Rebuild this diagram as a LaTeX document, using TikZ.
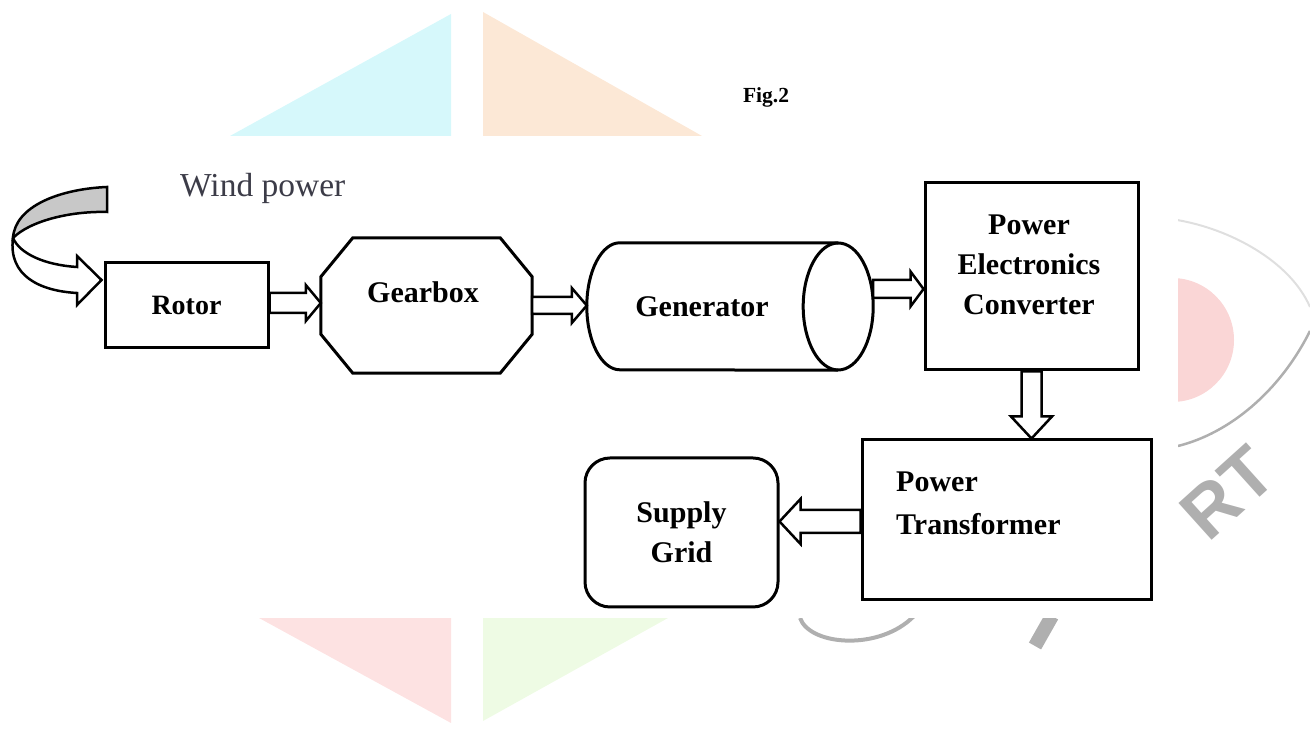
\documentclass[tikz,border=0pt]{standalone}
\usepackage{fontspec}
\setmainfont{Liberation Serif}
\newfontfamily\wmfont{Liberation Sans}
\usetikzlibrary{calc}

\definecolor{wmcyan}{RGB}{214,248,251}
\definecolor{wmpeach}{RGB}{252,232,214}
\definecolor{wmpink}{RGB}{253,226,226}
\definecolor{wmgreen}{RGB}{238,251,228}
\definecolor{wmred}{RGB}{250,214,214}
\definecolor{wmgray}{RGB}{175,175,175}
\definecolor{bandgray}{RGB}{200,200,200}
\definecolor{windgray}{RGB}{60,60,72}

\tikzset{
  box/.style={draw, line width=3pt, inner sep=0pt},
  lbl/.style={inner sep=0pt, font=\fontsize{30}{40}\selectfont\bfseries, align=center},
  barrow/.style n args={3}{draw, fill=white, line width=2.5pt, line join=miter,
    to path={let \p1=(\tikztostart), \p2=(\tikztotarget),
      \n1={atan2(\y2-\y1,\x2-\x1)}, \n2={veclen(\x2-\x1,\y2-\y1)} in
      ($(\p1)+(\n1+90:#1)$) -- ($(\p1)+(\n1:{\n2-#3})+(\n1+90:#1)$)
      -- ($(\p1)+(\n1:{\n2-#3})+(\n1+90:#2)$) -- (\p2)
      -- ($(\p1)+(\n1:{\n2-#3})+(\n1-90:#2)$) -- ($(\p1)+(\n1:{\n2-#3})+(\n1-90:#1)$)
      -- ($(\p1)+(\n1-90:#1)$) -- cycle}},
}

\begin{document}
\begin{tikzpicture}[x=1pt,y=1pt]
\path[use as bounding box] (0,0) rectangle (1310,751);
% watermark behind the figure
\fill[wmcyan] (230,615) -- (451,737) -- (451,615) -- cycle;
\fill[wmpeach] (483,739) -- (483,615) -- (702,615) -- cycle;
\fill[wmpink] (259,133) -- (451,133) -- (451,28) -- cycle;
\fill[wmgreen] (483,133) -- (668,133) -- (483,30) -- cycle;
\fill[wmred] (1172,411) circle (62);
\draw[wmgray!40, line width=2pt] (1177,531) .. controls (1230,522) and (1290,490) .. (1310,444);
\draw[wmgray, line width=2.5pt] (1178,305) .. controls (1230,318) and (1280,360) .. (1310,420);
\draw[wmgray, line width=4pt] (800,133) .. controls (810,105) and (880,100) .. (914,135);
\draw[wmgray, line width=14pt] (1052,135) -- (1035,105);
\node[rotate=42, inner sep=0pt, font=\wmfont\bfseries\fontsize{72}{72}\selectfont, text=wmgray] (wmtxt) at (1228,258) {RT};
\fill[white] (0,133) rectangle (1178,615);

\node[inner sep=0pt, font=\fontsize{21.5}{26}\selectfont\bfseries] (figtxt) at (766,654) {Fig.2};
\node[anchor=base west, inner sep=0pt, font=\fontsize{33.5}{40}\selectfont, text=windgray] (windtxt) at (180,554) {Wind power};

% blocks
\node[box, minimum width=163pt, minimum height=85pt, font=\fontsize{28}{34}\selectfont\bfseries] (rotor) at (186.5,445.5) {Rotor};
\node[minimum width=211pt, minimum height=135pt, inner sep=0pt] (gear) at (426.5,445.5) {};
\draw[line width=3pt] ([xshift=32pt]gear.north west) -- ([xshift=-32pt]gear.north east) -- ([yshift=-39pt]gear.north east) -- ([yshift=39pt]gear.south east) -- ([xshift=-32pt]gear.south east) -- ([xshift=32pt]gear.south west) -- ([yshift=39pt]gear.south west) -- ([yshift=-39pt]gear.north west) -- cycle;
\node[lbl, anchor=base] (geartxt) at (423,448) {Gearbox};
\node[minimum width=286pt, minimum height=127pt, inner sep=0pt] (gen) at (730,444.5) {};
\draw[line width=3pt] ([xshift=-35pt]gen.north east) -- ([xshift=33pt]gen.north west) arc[start angle=90, end angle=270, x radius=33, y radius=63.5] -- ([xshift=-35pt]gen.south east);
\draw[line width=3pt] ([xshift=-35pt]gen.east) ellipse[x radius=35, y radius=63.5];
\node[lbl, anchor=base] (gentxt) at (702,434) {Generator};
\node[box, minimum width=213pt, minimum height=187pt] (pec) at (1031.5,474.5) {};
\node[lbl, anchor=north] (pectxt) at (1029,536) {Power\\Electronics\\Converter};
\node[box, minimum width=289pt, minimum height=160pt] (trans) at (1006.5,231) {};
\node[lbl, anchor=north west, align=left, font=\fontsize{30}{43}\selectfont\bfseries] (transtxt) at (896,279) {Power\\Transformer};
\node[box, rounded corners=25pt, minimum width=193pt, minimum height=149pt, lbl] (grid) at (681.5,218.5) {Supply\\Grid};

% wind input
\draw[line width=2.5pt, fill=bandgray] (107,564) .. controls (60,562) and (15,545) .. (13,513) .. controls (30,530) and (70,540) .. (107,539) -- cycle;
\draw[line width=2.5pt, fill=white] (13,513) .. controls (8,475) and (40,460) .. (77,458) -- (77,446) -- ([yshift=25.5pt,xshift=-2pt]rotor.west) -- (77,495) -- (77,484) .. controls (45,486) and (20,497) .. (13,513) -- cycle;

% power flow
\draw[barrow={10}{18}{15}] ([yshift=2.5pt]rotor.east) to ([yshift=2.5pt]rotor.east -| gear.west);
\draw[barrow={8.5}{17.5}{15}] (gear.east) to (gear.east -| gen.west);
\draw[barrow={9}{17.5}{13}] ([yshift=17.5pt]gen.east) to ([yshift=17.5pt]gen.east -| pec.west);
\draw[barrow={10}{20.5}{22}] (pec.south) to (pec.south |- trans.north);
\draw[barrow={11.5}{22.5}{21}] ([yshift=-1.5pt]trans.west) to ([yshift=-1.5pt]trans.west -| grid.east);
\end{tikzpicture}
\end{document}
